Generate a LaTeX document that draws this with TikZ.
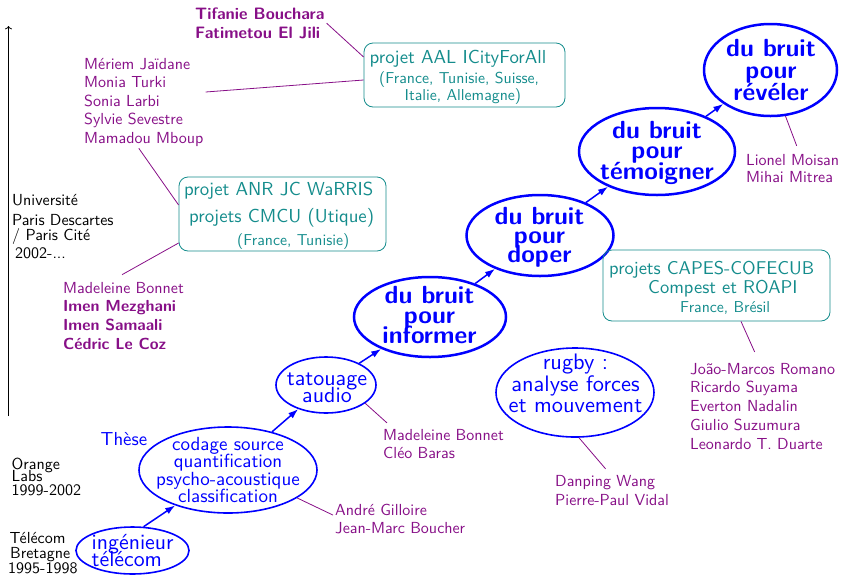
\documentclass[tikz,border=0pt]{standalone}
\usepackage{fontspec}
\setsansfont{lmsans10-regular.otf}[BoldFont=lmsans10-bold.otf]
\usetikzlibrary{shapes.geometric,arrows.meta,calc}
\definecolor{myblue}{RGB}{0,0,255}
\definecolor{mypurple}{RGB}{135,15,135}
\definecolor{myteal}{RGB}{20,140,140}
\newcommand\fs[2]{\fontsize{#1}{#2}\selectfont}
\newcommand\stackc[2]{\vtop{\baselineskip=#1\relax\lineskiplimit=-1000pt\lineskip=0pt\halign{\hfil##\hfil\cr#2\crcr}}}
\newcommand\stackl[2]{\vtop{\baselineskip=#1\relax\lineskiplimit=-1000pt\lineskip=0pt\halign{##\hfil\cr#2\crcr}}}
\tikzset{
  ell/.style={ellipse, draw=myblue, line width=1.6pt, inner sep=0pt},
  bigell/.style={ell, line width=2.5pt},
  etext/.style={text=myblue, inner sep=0pt, anchor=base},
  names/.style={text=mypurple, inner sep=2pt, anchor=base west, font=\sffamily\fs{16}{18.5}},
  tbox/.style={draw=myteal, rounded corners=9pt, line width=0.8pt, inner sep=0pt},
  tline/.style={text=myteal, inner sep=0pt, anchor=base west},
  pline/.style={draw=mypurple, line width=0.8pt},
  arr/.style={draw=myblue, line width=1.5pt, -{Latex[length=10pt,width=7pt]}},
  ltext/.style={inner sep=0pt, anchor=base west, font=\sffamily\fs{16}{18}},
  axisline/.style={draw=black, line width=0.8pt, ->},
}
\begin{document}
\begin{tikzpicture}[x=1pt,y=-1pt]
\useasboundingbox (0,0) rectangle (841,574);

% left axis and periods
\coordinate (axb) at (8.5,416);
\coordinate (axt) at (8.5,26);
\draw[axisline] (axb) -- (axt);
\node[ltext] (uni) at (12,205) {\stackl{17.5pt}{Université\cr\noalign{\vskip2.5pt}Paris Descartes\cr\noalign{\vskip-2.5pt}/ Paris Cité\cr\noalign{\vskip0.8pt}\kern3pt 2002-...}};
\node[ltext] (ora) at (11.5,469.3) {\stackl{13.2pt}{Orange\cr\noalign{\vskip-1.5pt}Labs\cr\noalign{\vskip1.5pt}1999-2002}};
\node[ltext] (tel) at (8,543.3) {\stackl{15pt}{\kern1.5pt Télécom\cr\kern2pt Bretagne\cr 1995-1998}};

% blue ellipses
\node[ell, minimum width=113pt, minimum height=47pt] (ing) at (132.5,550.5) {};
\node[ell, minimum width=178pt, minimum height=86pt] (cod) at (228,470) {};
\node[ell, minimum width=100pt, minimum height=56pt] (tat) at (326,385) {};
\node[bigell, minimum width=152pt, minimum height=80pt] (inf) at (430,317) {};
\node[bigell, minimum width=147pt, minimum height=81pt] (dop) at (540,235.5) {};
\node[bigell, minimum width=156pt, minimum height=87pt] (tem) at (657,151.5) {};
\node[bigell, minimum width=133pt, minimum height=92pt] (rev) at (770.5,70) {};
\node[ell, minimum width=158pt, minimum height=89pt] (rug) at (575,392.5) {};

% ellipse texts
\node[etext, anchor=base west, font=\sffamily\fs{21.8}{17.3}] (ingt) at (91.5,549) {\stackl{17.3pt}{ingénieur\cr télécom}};
\node[etext, font=\sffamily\fs{19}{17.5}] (codt) at (228,450) {\stackc{17.5pt}{codage source\cr quantification\cr psycho-acoustique\cr classification}};
\node[etext, font=\sffamily\fs{22}{17.3}] (tatt) at (327,385.5) {\stackc{17.3pt}{tatouage\cr audio}};
\node[etext, font=\sffamily\bfseries\fs{24.8}{20}] (inft) at (429.5,303) {\stackc{20pt}{du bruit\cr pour\cr informer}};
\node[etext, font=\sffamily\bfseries\fs{24.8}{19.3}] (dopt) at (539.5,224.3) {\stackc{19.3pt}{du bruit\cr pour\cr doper}};
\node[etext, font=\sffamily\bfseries\fs{24.8}{20.4}] (temt) at (657,138.3) {\stackc{20.4pt}{du bruit\cr pour\cr témoigner}};
\node[etext, font=\sffamily\bfseries\fs{24.8}{22.3}] (revt) at (771,56) {\stackc{22.3pt}{du bruit\cr pour\cr révéler}};
\node[etext, font=\sffamily\fs{22.4}{21.7}] (rugt) at (575.5,369.3) {\stackc{21.7pt}{rugby :\cr analyse forces\cr et mouvement}};
\node[etext, anchor=base west, font=\sffamily\fs{18.8}{20}] (these) at (100.5,445) {Thèse};

% blue arrows
\draw[arr] (ing.65) -- (cod);
\draw[arr] (cod) -- (tat);
\draw[arr] (tat) -- (inf);
\draw[arr] (inf) -- (dop);
\draw[arr] (dop) -- (tem);
\draw[arr] (tem) -- (rev);

% teal project boxes
\node[tbox, minimum width=201pt, minimum height=64pt] (aal) at (464.5,75) {};
\node[tline, font=\sffamily\fs{18.8}{20}] (aal1) at (369.5,63.3) {projet AAL ICityForAll};
\node[tline, font=\sffamily\fs{15.8}{18}] (aal2) at (379,83.3) {(France, Tunisie, Suisse,};
\node[tline, font=\sffamily\fs{15.8}{18}] (aal3) at (404.5,100) {Italie, Allemagne)};

\node[tbox, minimum width=207pt, minimum height=74pt] (war) at (282.5,214) {};
\node[tline, font=\sffamily\fs{18.8}{20}] (war1) at (184,195) {projet ANR JC WaRRIS};
\node[tline, font=\sffamily\fs{18.8}{20}] (war2) at (189,222.3) {projets CMCU (Utique)};
\node[tline, font=\sffamily\fs{15.8}{18}] (war3) at (237,245.7) {(France, Tunisie)};

\node[tbox, minimum width=227pt, minimum height=71pt] (cap) at (716.5,285.5) {};
\node[tline, font=\sffamily\fs{18.5}{20}] (cap1) at (609,274) {projets CAPES-COFECUB};
\node[tline, font=\sffamily\fs{18.5}{20}] (cap2) at (648,293.3) {Compest et ROAPI};
\node[tline, font=\sffamily\fs{15.8}{18}] (cap3) at (680,312.7) {France, Brésil};

% purple name blocks
\node[names, font=\sffamily\bfseries\fs{16.5}{19}] (tif) at (193,19.3) {\stackl{19pt}{Tifanie Bouchara\cr Fatimetou El Jili}};
\node[names] (mer) at (82,69) {\stackl{18.5pt}{Mériem Jaïdane\cr Monia Turki\cr Sonia Larbi\cr Sylvie Sevestre\cr Mamadou Mboup}};
\node[names] (mad) at (61,293) {\stackl{18.7pt}{Madeleine Bonnet\cr\bfseries Imen Mezghani\cr\bfseries Imen Samaali\cr\bfseries Cédric Le Coz}};
\node[names] (mb2) at (381,440.7) {\stackl{17.6pt}{Madeleine Bonnet\cr Cléo Baras}};
\node[names] (and) at (333,515) {\stackl{18.3pt}{André Gilloire\cr Jean-Marc Boucher}};
\node[names] (dan) at (553,486.7) {\stackl{19pt}{Danping Wang\cr Pierre-Paul Vidal}};
\node[names] (joa) at (688,374) {\stackl{18.8pt}{João-Marcos Romano\cr Ricardo Suyama\cr Everton Nadalin\cr Giulio Suzumura\cr Leonardo T. Duarte}};
\node[names] (lio) at (744,165.7) {\stackl{17pt}{Lionel Moisan\cr Mihai Mitrea}};

% purple connectors
\draw[pline] (tif.east) -- ([yshift=18pt]aal.west);
\draw[pline] ([yshift=10pt]mer.east) -- ([yshift=-5pt]aal.west);
\draw[pline] ([xshift=-5pt]mer.south) -- ([yshift=9pt]war.west);
\draw[pline] ([yshift=-29pt]war.west) -- ([xshift=-1.5pt,yshift=5pt]mad.north);
\draw[pline] (tat.-25) -- ([xshift=6pt,yshift=4.5pt]mb2.north west);
\draw[pline] (cod.-22) -- ([yshift=3.6pt]and.west);
\draw[pline] (rug.-85) -- ([xshift=-6.5pt,yshift=4.6pt]dan.north);
\draw[pline] (rev.-72) -- ([xshift=4pt,yshift=6.6pt]lio.north);
\draw[pline] ([xshift=24.5pt]cap.south) -- ([xshift=-8pt,yshift=8.8pt]joa.north);
\end{tikzpicture}
\end{document}
